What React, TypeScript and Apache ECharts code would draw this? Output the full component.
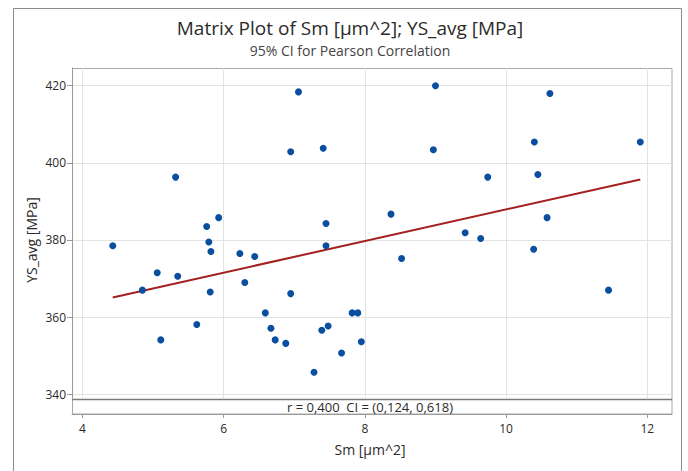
import React, { useEffect, useRef } from "react";
import * as echarts from "echarts";

const smValues = [
  4.43, 4.85, 5.06, 5.11, 5.32, 5.35, 5.62, 5.76, 5.79, 5.81, 5.82, 5.93,
  6.23, 6.3, 6.44, 6.59, 6.67, 6.73, 6.88, 6.95, 6.95, 7.06, 7.28, 7.39,
  7.41, 7.45, 7.45, 7.48, 7.67, 7.82, 7.9, 7.95, 8.37, 8.52, 8.97, 9.0,
  9.42, 9.64, 9.74, 10.39, 10.4, 10.45, 10.58, 10.62, 11.45, 11.9,
];
const ysValues = [
  378.5, 367.0, 371.5, 354.1, 396.3, 370.6, 358.1, 383.5, 379.5, 366.5, 377.0, 385.8,
  376.5, 369.0, 375.7, 361.1, 357.1, 354.1, 353.2, 402.9, 366.1, 418.4, 345.7, 356.6,
  403.8, 384.3, 378.5, 357.7, 350.7, 361.1, 361.1, 353.6, 386.7, 375.2, 403.4, 420.0,
  381.9, 380.4, 396.3, 377.6, 405.4, 397.0, 385.8, 418.0, 367.0, 405.4,
];
const fitX = [4.43, 11.9];
const fitY = [365.1, 395.7];
const xTicks = [4, 6, 8, 10, 12];
const yTicks = [340, 360, 380, 400, 420];
const titleText = "Matrix Plot of Sm [µm^2]; YS_avg [MPa]";
const subtitleText = "95% CI for Pearson Correlation";
const statsText = "r = 0,400  CI = (0,124, 0,618)";
const xName = "Sm [µm^2]";
const yName = "YS_avg [MPa]";

const FONT = "'Open Sans', 'Noto Sans', sans-serif";

export default function App() {
  const ref = useRef<HTMLDivElement>(null);
  useEffect(() => {
    if (!ref.current) return;
    const chart = echarts.init(ref.current, null, { renderer: "svg" });
    const points = smValues.map((x, i) => [x, ysValues[i]]);
    const fit = fitX.map((x, i) => [x, fitY[i]]);
    chart.setOption({
      animation: false,
      backgroundColor: "#ffffff",
      textStyle: { fontFamily: FONT },
      grid: { left: 72, top: 68, right: 16, bottom: 72, containLabel: false },
      xAxis: {
        type: "value",
        min: 3.853,
        max: 12.349,
        offset: 15,
        axisLine: { show: true, lineStyle: { color: "#9a9a9a", width: 1 } },
        axisTick: { show: true, customValues: xTicks, length: 4, lineStyle: { color: "#9a9a9a" } },
        axisLabel: { customValues: xTicks, color: "#2b2b2b", fontSize: 12, margin: 8, fontFamily: FONT },
        splitLine: { show: true, lineStyle: { color: "#e3e3e3", width: 1 } },
      },
      yAxis: {
        type: "value",
        min: 338.78,
        max: 424.59,
        axisLine: { show: true, lineStyle: { color: "#9a9a9a", width: 1 } },
        axisTick: { show: true, customValues: yTicks, length: 5, lineStyle: { color: "#9a9a9a" } },
        axisLabel: { customValues: yTicks, color: "#2b2b2b", fontSize: 12, margin: 6, fontFamily: FONT },
        splitLine: { show: true, lineStyle: { color: "#e3e3e3", width: 1 } },
      },
      series: [
        {
          type: "scatter",
          data: points,
          symbol: "circle",
          symbolSize: 7,
          itemStyle: { color: "#0a4ea0", opacity: 1 },
          z: 3,
        },
        {
          type: "line",
          data: fit,
          symbol: "none",
          lineStyle: { color: "#a3201f", width: 2 },
          z: 2,
        },
      ],
      graphic: [
        {
          type: "rect",
          shape: { x: 13.5, y: 8.5, width: 668, height: 490 },
          style: { fill: "none", stroke: "#8c8c8c", lineWidth: 1 },
          silent: true,
        },
        {
          type: "rect",
          shape: { x: 72.5, y: 68.5, width: 599.5, height: 345.5 },
          style: { fill: "none", stroke: "#a8a8a8", lineWidth: 1 },
          silent: true,
        },
        {
          type: "line",
          shape: { x1: 72, y1: 399.5, x2: 672, y2: 399.5 },
          style: { stroke: "#7a7a7a", lineWidth: 1.5 },
          silent: true,
        },
        {
          type: "text",
          x: 370,
          y: 407,
          style: {
            text: statsText,
            fill: "#2b2b2b",
            font: `13px ${FONT}`,
            textAlign: "center",
            textVerticalAlign: "middle",
          },
        },
        {
          type: "text",
          x: 350,
          y: 28,
          style: {
            text: titleText,
            fill: "#2b2b2b",
            font: `19px ${FONT}`,
            textAlign: "center",
            textVerticalAlign: "middle",
          },
        },
        {
          type: "text",
          x: 350,
          y: 50,
          style: {
            text: subtitleText,
            fill: "#444",
            font: `14px ${FONT}`,
            textAlign: "center",
            textVerticalAlign: "middle",
          },
        },
        {
          type: "text",
          x: 370,
          y: 449,
          style: {
            text: xName,
            fill: "#2b2b2b",
            font: `14px ${FONT}`,
            textAlign: "center",
            textVerticalAlign: "middle",
          },
        },
        {
          type: "text",
          x: 31,
          y: 240,
          rotation: Math.PI / 2,
          style: {
            text: yName,
            fill: "#2b2b2b",
            font: `14px ${FONT}`,
            textAlign: "center",
            textVerticalAlign: "middle",
          },
        },
      ],
    });
    return () => chart.dispose();
  }, []);
  return (
    <div
      ref={ref}
      style={{ position: "fixed", left: 0, top: 0, width: 688, height: 471 }}
    />
  );
}
